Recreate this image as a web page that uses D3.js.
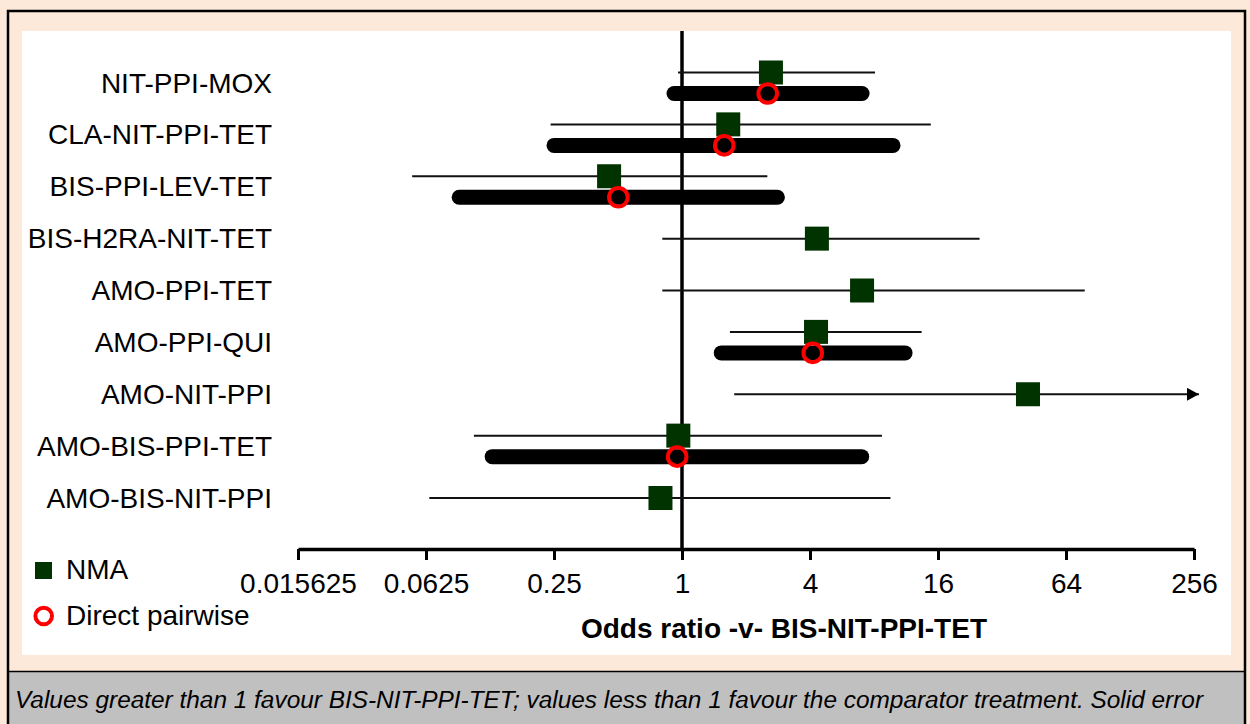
<!DOCTYPE html>
<html>
<head>
<meta charset="utf-8">
<script src="https://cdn.jsdelivr.net/npm/d3@7"></script>
<style>
  html, body { margin: 0; padding: 0; background: #fde9d9; }
  svg { display: block; }
  text { font-family: Arial, "Liberation Sans", sans-serif; fill: #000; }
</style>
</head>
<body>
<svg id="chart" width="1250" height="724"></svg>
<script>
// ---- Data ----
const categories = ["NIT-PPI-MOX", "CLA-NIT-PPI-TET", "BIS-PPI-LEV-TET", "BIS-H2RA-NIT-TET",
  "AMO-PPI-TET", "AMO-PPI-QUI", "AMO-NIT-PPI", "AMO-BIS-PPI-TET", "AMO-BIS-NIT-PPI"];
const nmaEst = [2.62, 1.65, 0.454, 4.31, 7.03, 4.27, 42.4, 0.961, 0.792];
const nmaLo  = [0.958, 0.241, 0.0538, 0.808, 0.808, 1.68, 1.76, 0.105, 0.0648];
const nmaHi  = [8.09, 14.8, 2.52, 25.1, 78.4, 13.4, 270, 8.72, 9.56];
const nmaArrow = [false, false, false, false, false, false, true, false, false];
const directEst = [2.53, 1.58, 0.502, null, null, 4.12, null, 0.949, null];
const directLo  = [0.917, 0.25, 0.0895, null, null, 1.53, null, 0.128, null];
const directHi  = [7.03, 9.83, 2.81, null, null, 11.2, null, 7.0, null];
const tickValues = [0.015625, 0.0625, 0.25, 1, 4, 16, 64, 256];
const tickLabels = ["0.015625", "0.0625", "0.25", "1", "4", "16", "64", "256"];
const axisTitle = "Odds ratio -v- BIS-NIT-PPI-TET";
const legendLabels = ["NMA", "Direct pairwise"];
const caption = "Values greater than 1 favour BIS-NIT-PPI-TET; values less than 1 favour the comparator treatment. Solid error";

// ---- Setup ----
const svg = d3.select("#chart");
const W = 1250, H = 724;
const nmaColor = "#003300", directColor = "#ff0000";

// backgrounds
svg.append("rect").attr("x", 0).attr("y", 0).attr("width", W).attr("height", H).attr("fill", "#fde9d9");
svg.append("rect").attr("x", 7).attr("y", 672).attr("width", 1238).attr("height", 60).attr("fill", "#c0c0c0");
svg.append("line").attr("x1", 7).attr("x2", 1245).attr("y1", 671.5).attr("y2", 671.5).attr("stroke", "#000").attr("stroke-width", 1.5);
svg.append("rect").attr("x", 22).attr("y", 31).attr("width", 1209).attr("height", 624).attr("fill", "#fff");
svg.append("path").attr("d", "M8,730 V11 H1245 V730").attr("fill", "none").attr("stroke", "#000").attr("stroke-width", 2.5);

const x = d3.scaleLog().base(2).domain([tickValues[0], tickValues[tickValues.length - 1]]).range([298, 1194]);
const y = d3.scalePoint().domain(categories).range([83, 498]);

const rows = categories.map((c, i) => ({
  cat: c, est: nmaEst[i], lo: nmaLo[i], hi: nmaHi[i], arrow: nmaArrow[i],
  dEst: directEst[i], dLo: directLo[i], dHi: directHi[i], hasDirect: directEst[i] != null
}));
const off = 10.5;
const yN = d => y(d.cat) - (d.hasDirect ? off : 0);
const yD = d => y(d.cat) + off;

// vertical reference line at OR = 1
svg.append("line").attr("x1", x(1)).attr("x2", x(1)).attr("y1", 31).attr("y2", 549)
  .attr("stroke", "#000").attr("stroke-width", 3.5);

// arrow marker
svg.append("defs").append("marker").attr("id", "arr")
  .attr("viewBox", "0 0 12 13").attr("refX", 12).attr("refY", 6.5)
  .attr("markerWidth", 12).attr("markerHeight", 13).attr("markerUnits", "userSpaceOnUse")
  .attr("orient", "auto")
  .append("path").attr("d", "M0,0 L12,6.5 L0,13 Z").attr("fill", "#000");

// NMA CI thin lines
svg.append("g").selectAll("line").data(rows).join("line")
  .attr("x1", d => x(d.lo)).attr("x2", d => x(d.hi))
  .attr("y1", yN).attr("y2", yN)
  .attr("stroke", "#111").attr("stroke-width", 2)
  .attr("marker-end", d => d.arrow ? "url(#arr)" : null);

// Direct CI thick bars
const dRows = rows.filter(d => d.hasDirect);
svg.append("g").selectAll("line").data(dRows).join("line")
  .attr("x1", d => x(d.dLo)).attr("x2", d => x(d.dHi))
  .attr("y1", yD).attr("y2", yD)
  .attr("stroke", "#000").attr("stroke-width", 15).attr("stroke-linecap", "round");

// NMA squares
const sq = 24;
svg.append("g").selectAll("rect").data(rows).join("rect")
  .attr("x", d => x(d.est) - sq / 2).attr("y", d => yN(d) - sq / 2)
  .attr("width", sq).attr("height", sq).attr("fill", nmaColor);

// Direct circles
svg.append("g").selectAll("circle").data(dRows).join("circle")
  .attr("cx", d => x(d.dEst)).attr("cy", yD).attr("r", 9.3)
  .attr("fill", "none").attr("stroke", directColor).attr("stroke-width", 4);

// Row labels
svg.append("g").selectAll("text").data(categories).join("text")
  .attr("x", 272).attr("y", d => y(d) + 9.5)
  .attr("text-anchor", "end").attr("font-size", 28).text(d => d);

// X axis
const axis = d3.axisBottom(x).tickValues(tickValues)
  .tickFormat((d, i) => tickLabels[i]).tickSize(11).tickSizeOuter(0).tickPadding(13);
const gx = svg.append("g").attr("transform", "translate(0,549)").call(axis);
gx.select(".domain").attr("stroke", "#000").attr("stroke-width", 3.5);
gx.selectAll(".tick line").attr("stroke", "#000").attr("stroke-width", 3);
gx.selectAll(".tick text").attr("font-size", 28).attr("font-family", "Arial, 'Liberation Sans', sans-serif").attr("fill", "#000");

// Axis title
svg.append("text").attr("x", 784).attr("y", 638).attr("text-anchor", "middle")
  .attr("font-size", 28).attr("font-weight", "bold").text(axisTitle);

// Legend
svg.append("rect").attr("x", 35).attr("y", 562).attr("width", 17).attr("height", 17).attr("fill", nmaColor);
svg.append("text").attr("x", 66).attr("y", 579).attr("font-size", 28).text(legendLabels[0]);
svg.append("circle").attr("cx", 43.7).attr("cy", 616).attr("r", 8.3)
  .attr("fill", "none").attr("stroke", directColor).attr("stroke-width", 4);
svg.append("text").attr("x", 66).attr("y", 625).attr("font-size", 28).text(legendLabels[1]);

// Caption
svg.append("text").attr("x", 15).attr("y", 708).attr("font-size", 24.4).attr("font-style", "italic").text(caption);
</script>
</body>
</html>
